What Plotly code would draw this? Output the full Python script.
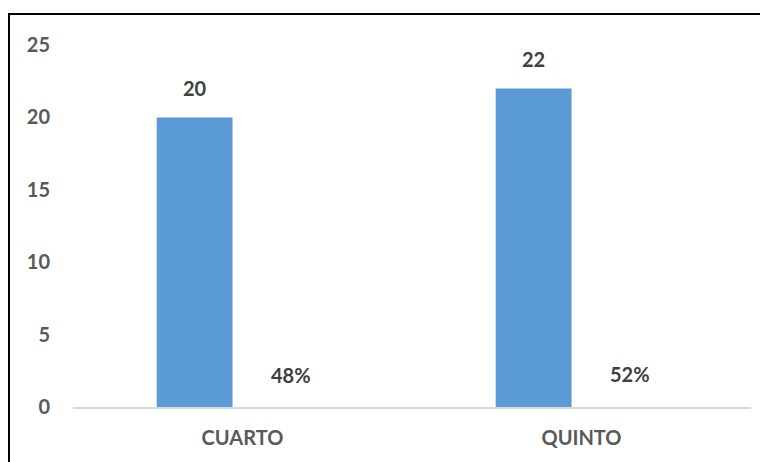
import plotly.graph_objects as go

# data
grados = ['CUARTO', 'QUINTO']
cantidad = [20, 22]
porcentaje = [0.48, 0.52]
y_ticks = [0, 5, 10, 15, 20, 25]

fig = go.Figure()

fig.add_trace(go.Bar(x=grados, y=cantidad, name='Cantidad',
                     marker=dict(color='#5B9BD5', line=dict(width=0))))
# the percentage series is too small to see, only its labels show
fig.add_trace(go.Bar(x=grados, y=porcentaje, name='Porcentaje',
                     marker=dict(color='rgba(0,0,0,0)', line=dict(width=0))))

# data labels, shifted over each bar of the group
for i, g in enumerate(grados):
    fig.add_annotation(x=g, y=cantidad[i], text='%d' % cantidad[i],
                       xshift=-48, yshift=29, yanchor='middle', showarrow=False,
                       font=dict(family='Lato', size=20, color='#404040', weight='bold'))
    fig.add_annotation(x=g, y=porcentaje[i], text='%d%%' % round(porcentaje[i]*100),
                       xshift=48, yshift=25, yanchor='middle', showarrow=False,
                       font=dict(family='Lato', size=20, color='#404040', weight='bold'))

# chart border, only top and left edges fall inside the window
fig.add_shape(type='rect', xref='paper', yref='paper',
              x0=-0.0944, x1=1.1, y0=-0.3, y1=1.0856,
              line=dict(color='black', width=2), fillcolor='rgba(0,0,0,0)', layer='below')

fig.update_layout(
    width=768,
    height=462,
    barmode='group',
    bargap=0.435,
    bargroupgap=0.208,
    showlegend=False,
    plot_bgcolor='white',
    paper_bgcolor='white',
    font=dict(family='Lato', size=20, color='#595959', weight='bold'),
    margin=dict(l=65, r=25, t=37, b=63, autoexpand=False),
)

fig.update_xaxes(showline=True, linewidth=2, linecolor='#D9D9D9', showgrid=False,
                 ticks='', ticklabelstandoff=12)
fig.update_yaxes(range=[0, 25], tickvals=y_ticks, showgrid=False, zeroline=False,
                 showline=False, ticks='', ticklabelstandoff=22)

fig.write_html('out.html')
